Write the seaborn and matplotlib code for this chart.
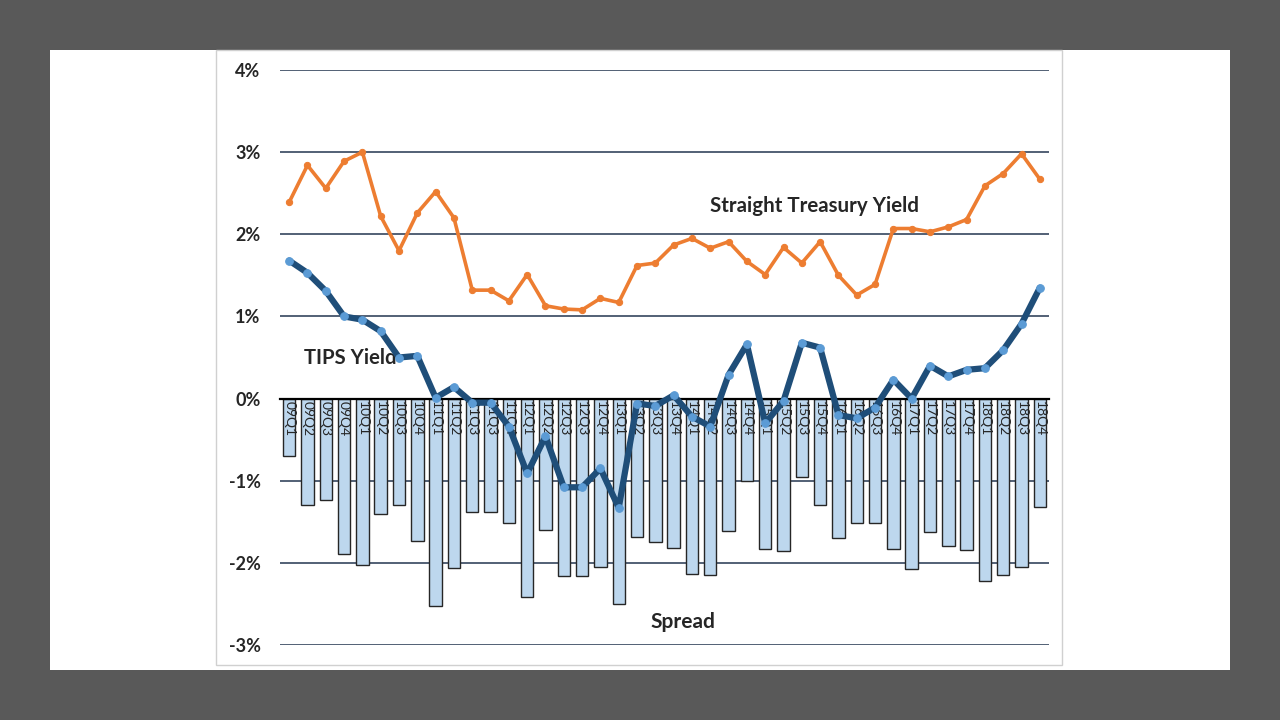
import numpy as np
import pandas as pd
import matplotlib
matplotlib.use("Agg")
import matplotlib.pyplot as plt
from matplotlib.patches import Rectangle
import seaborn as sns

quarters = ["09Q1", "09Q2", "09Q3", "09Q4", "10Q1", "10Q2", "10Q3", "10Q4",
            "11Q1", "11Q2", "11Q3", "11Q3", "11Q4", "12Q1", "12Q2", "12Q3",
            "12Q3", "12Q4", "13Q1", "13Q2", "13Q3", "13Q4", "14Q1", "14Q2",
            "14Q3", "14Q4", "15Q1", "15Q2", "15Q3", "15Q4", "16Q1", "16Q2",
            "16Q3", "16Q4", "17Q1", "17Q2", "17Q3", "17Q4", "18Q1", "18Q2",
            "18Q3", "18Q4"]

treasury = [2.39, 2.84, 2.56, 2.89, 3.00, 2.22, 1.80, 2.26, 2.52, 2.20,
            1.32, 1.32, 1.19, 1.51, 1.13, 1.09, 1.08, 1.22, 1.17, 1.62,
            1.65, 1.87, 1.95, 1.83, 1.91, 1.67, 1.51, 1.84, 1.65, 1.91,
            1.50, 1.26, 1.39, 2.07, 2.07, 2.03, 2.09, 2.18, 2.59, 2.74,
            2.98, 2.67]

tips = [1.68, 1.53, 1.31, 1.00, 0.96, 0.82, 0.50, 0.52, 0.01, 0.14,
        -0.05, -0.05, -0.34, -0.91, -0.46, -1.08, -1.08, -0.85, -1.33, -0.06,
        -0.09, 0.04, -0.22, -0.34, 0.29, 0.66, -0.30, -0.03, 0.68, 0.62,
        -0.20, -0.24, -0.11, 0.23, 0.00, 0.40, 0.27, 0.35, 0.37, 0.59,
        0.91, 1.35]

spread = [-0.70, -1.29, -1.24, -1.89, -2.02, -1.40, -1.30, -1.73, -2.52, -2.06,
          -1.38, -1.38, -1.52, -2.41, -1.60, -2.16, -2.16, -2.05, -2.50, -1.68,
          -1.75, -1.82, -2.13, -2.15, -1.61, -1.00, -1.83, -1.85, -0.96, -1.29,
          -1.70, -1.51, -1.52, -1.83, -2.07, -1.63, -1.80, -1.84, -2.22, -2.15,
          -2.05, -1.32]

y_ticks = [-3, -2, -1, 0, 1, 2, 3, 4]
y_tick_labels = ["-3%", "-2%", "-1%", "0%", "1%", "2%", "3%", "4%"]

df = pd.DataFrame({"pos": np.arange(len(quarters)), "quarter": quarters,
                   "treasury": treasury, "tips": tips, "spread": spread})

sns.set_style("white")
plt.rcParams["font.family"] = ["Lato", "DejaVu Sans"]
plt.rcParams["axes.axisbelow"] = "line"

fig = plt.figure(figsize=(12.8, 7.2), dpi=100, facecolor="#595959")
W, H = 1280, 720
fig.patches.append(Rectangle((50 / W, 1 - 670 / H), 1180 / W, 620 / H,
                             transform=fig.transFigure, facecolor="white",
                             edgecolor="none", zorder=-5))
fig.patches.append(Rectangle((216 / W, 1 - 665 / H), 846 / W, 615 / H,
                             transform=fig.transFigure, facecolor="none",
                             edgecolor="#D0D0D0", linewidth=1.0, zorder=-4))

ax = fig.add_axes([280 / W, 1 - 645 / H, 769 / W, 575 / H])
ax.set_facecolor("none")
ax.set_axisbelow("line")

for yv in y_ticks:
    if yv != 0:
        ax.axhline(yv, color="#44546A", linewidth=1.3, zorder=0.5)

sns.barplot(data=df, x="pos", y="spread", ax=ax, color="#BDD7EE",
            saturation=1, width=0.68, edgecolor="#262626", linewidth=1.0,
            zorder=1)

sns.lineplot(data=df, x="pos", y="treasury", ax=ax, color="#ED7D31",
             linewidth=2.6, marker="o", markersize=4.5,
             markerfacecolor="#ED7D31", markeredgecolor="#ED7D31", zorder=3)
sns.lineplot(data=df, x="pos", y="tips", ax=ax, color="#1F4E79",
             linewidth=4.5, marker="o", markersize=5.5,
             markerfacecolor="#5B9BD5", markeredgecolor="#5B9BD5", zorder=3)

ax.set_xlim(-0.5, len(quarters) - 0.5)
ax.set_ylim(-3, 4)
ax.set_yticks(y_ticks)
ax.set_yticklabels(y_tick_labels, fontsize=13, fontweight="bold")
ax.tick_params(axis="y", length=0, pad=14)

ax.set_xticks(np.arange(len(quarters)))
ax.set_xticklabels(quarters, fontsize=10)
ax.tick_params(axis="x", length=0, pad=2, labelrotation=270)
ax.spines["bottom"].set_position(("data", 0))
ax.spines["bottom"].set_color("black")
ax.spines["bottom"].set_linewidth(1.6)
ax.spines["bottom"].set_zorder(2)
for s in ["top", "left", "right"]:
    ax.spines[s].set_visible(False)
ax.set_xlabel("")
ax.set_ylabel("")

ax.text(815 / W, 1 - 206 / H, "Straight Treasury Yield", transform=fig.transFigure,
        ha="center", va="center", fontsize=14.8, fontweight="bold")
ax.text(350 / W, 1 - 358 / H, "TIPS Yield", transform=fig.transFigure,
        ha="center", va="center", fontsize=14.6, fontweight="bold", zorder=2.5)
ax.text(683 / W, 1 - 622 / H, "Spread", transform=fig.transFigure,
        ha="center", va="center", fontsize=15, fontweight="bold")

fig.savefig("out.png", dpi=100, facecolor=fig.get_facecolor())
